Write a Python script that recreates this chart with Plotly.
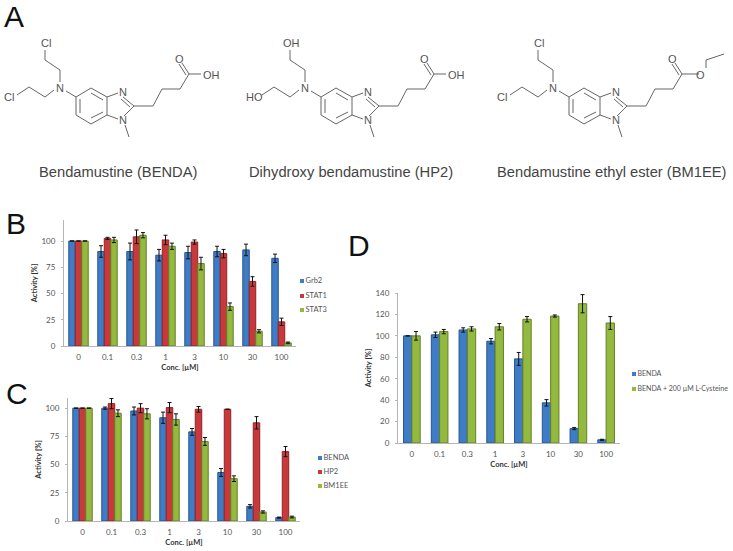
import plotly.graph_objects as go

conc = ["0", "0.1", "0.3", "1", "3", "10", "30", "100"]

b_grb2 = [100, 90, 90, 86.5, 89, 90, 91.5, 83.5]
b_grb2_err = [0, 5.5, 8, 5.5, 6, 5, 5.5, 4]
b_stat1 = [100, 102.5, 104, 101, 99, 88, 61.5, 23]
b_stat1_err = [0, 1, 6.5, 4.5, 2, 4, 4.5, 3.5]
b_stat3 = [100, 101, 105.5, 95, 78.5, 37.5, 14, 3]
b_stat3_err = [0, 2.5, 2.5, 3, 6, 3.5, 1.5, 0.8]

c_benda = [100, 100, 97.5, 91.5, 79, 43, 13, 3]
c_benda_err = [0, 1, 3.5, 5, 3, 3.5, 1.5, 0.5]
c_hp2 = [100, 104, 100, 100.5, 99, 99, 87, 61.5]
c_hp2_err = [0, 4.5, 4, 4.5, 2.5, 0, 5.5, 4.5]
c_bm1ee = [100, 95.5, 95, 90, 70.5, 37.5, 8, 3.5]
c_bm1ee_err = [0, 3, 4.5, 5, 3.5, 2.5, 1, 0.8]

d_benda = [100, 101, 105.5, 95, 78.5, 37.5, 13.5, 3]
d_benda_err = [0, 2.5, 2, 2.5, 6, 3, 1, 0.5]
d_cys = [100, 104, 106.5, 108.5, 115.5, 118.5, 130, 112]
d_cys_err = [4, 2, 2, 3, 2.5, 1, 8.5, 6]

W, H = 733, 551
BLUE, RED, GREEN = "#3f7cc6", "#c9383a", "#93b93f"
BLUE_D, RED_D, GREEN_D = "#27568f", "#8e2426", "#64802a"
TXT = "#555555"
FONT = "Lato, 'Open Sans', sans-serif"
SANS = "'Liberation Sans', Arial, sans-serif"

fig = go.Figure()


def add_bar(name, vals, errs, col, edge, ax):
    fig.add_trace(go.Bar(x=conc, y=vals, name=name, xaxis="x" + ax, yaxis="y" + ax,
                         marker=dict(color=col, line=dict(color=edge, width=1)),
                         error_y=dict(type="data", array=errs, visible=True, color="#111111",
                                      thickness=1, width=2),
                         showlegend=False))


add_bar("Grb2", b_grb2, b_grb2_err, BLUE, BLUE_D, "")
add_bar("STAT1", b_stat1, b_stat1_err, RED, RED_D, "")
add_bar("STAT3", b_stat3, b_stat3_err, GREEN, GREEN_D, "")
add_bar("BENDA", c_benda, c_benda_err, BLUE, BLUE_D, "2")
add_bar("HP2", c_hp2, c_hp2_err, RED, RED_D, "2")
add_bar("BM1EE", c_bm1ee, c_bm1ee_err, GREEN, GREEN_D, "2")
add_bar("BENDA", d_benda, d_benda_err, BLUE, BLUE_D, "3")
add_bar("BENDA + 200 µM L-Cysteine", d_cys, d_cys_err, GREEN, GREEN_D, "3")

# the bars are grouped per axis, gap differs for panel D so use offsets there
for tr in fig.data[6:]:
    tr.width = 0.3
fig.data[6].offset = -0.3
fig.data[7].offset = 0.0


def key(names, cols, x, ys, size=7.5):
    fig.add_trace(go.Scatter(x=[x] * len(names), y=ys, text=names, mode="markers+text",
                             textposition="middle right",
                             textfont=dict(family=FONT, size=size, color=TXT),
                             marker=dict(symbol="square", size=4, color=cols),
                             xaxis="x4", yaxis="y4", showlegend=False, hoverinfo="skip"))


key(["Grb2", "STAT1", "STAT3"], [BLUE, RED, GREEN], 302, [281, 296, 310])
key(["BENDA", "HP2", "BM1EE"], [BLUE, RED, GREEN], 320, [458, 472, 486])
key(["BENDA", "BENDA + 200 µM L-Cysteine"], [BLUE, GREEN], 634, [374, 389], 7)

# skeleton of the molecule, in pixels of the left drawing
ring = [(76, 97), (91, 88), (107, 97), (107, 115), (91, 124), (76, 115), (76, 97)]
inner = [[(80, 99), (80, 113)], [(91, 118), (103, 112)], [(91, 93), (103, 100)]]
imidazole = [[(107, 97), (118, 93)], [(123, 97), (134, 106)], [(134, 106), (124, 116)],
             [(118, 119), (107, 115)], [(121, 99), (130, 107)]]
methyl = [(125, 125), (129, 137)]
chain = [(134, 106), (153, 106), (162, 89), (180, 89), (189, 74)]
carbonyl = [[(189, 74), (182, 63)], [(186, 75), (179, 64)]]
arm_a = [(60, 82), (60, 70), (45, 60), (45, 50)]
arm_b = [(54, 90), (45, 97), (29, 87), (17, 95)]
n_link = [(66, 91), (76, 97)]
acid = [(189, 74), (201, 74)]
ester = [(189, 74), (206, 74)]
ethyl = [(213, 68), (213, 60), (231, 54)]


def bonds(dx, end):
    paths = [ring, methyl, chain, arm_a, arm_b, n_link] + inner + imidazole + carbonyl + end
    xs, ys = [], []
    for p in paths:
        xs += [q[0] + dx for q in p] + [None]
        ys += [q[1] for q in p] + [None]
    fig.add_trace(go.Scatter(x=xs, y=ys, mode="lines", line=dict(color="#666666", width=1),
                             xaxis="x4", yaxis="y4", showlegend=False, hoverinfo="skip"))


bonds(0, [acid])
bonds(245, [acid])
bonds(493, [ester, ethyl])


def label(text, x, y, size=11, color=TXT, family=SANS, xanchor="center"):
    fig.add_annotation(text=text, x=x, y=y, xref="x4", yref="y4", showarrow=False,
                       xanchor=xanchor, yanchor="middle",
                       font=dict(family=family, size=size, color=color))


for dx, top, low in [(0, "Cl", "Cl"), (245, "OH", "HO"), (493, "Cl", "Cl")]:
    label(top, 46 + dx, 43)
    label(low, 9 + dx, 97)
    label("N", 60 + dx, 88)
    label("N", 123 + dx, 92)
    label("N", 123 + dx, 120)
    label("O", 179 + dx, 59)
label("OH", 211, 75)
label("OH", 456, 75)
label("O", 700, 75)

label("Bendamustine (BENDA)", 118, 172, 14.7, "#444444")
label("Dihydroxy bendamustine (HP2)", 351, 172, 14.7, "#444444")
label("Bendamustine ethyl ester (BM1EE)", 611, 172, 14.7, "#444444")

label("A", 14, 16, 30, "#111111")
label("B", 16, 223, 30, "#111111")
label("C", 17, 393, 30, "#111111")
label("D", 359, 245, 30, "#111111")


def x_axis(x0, x1, anchor):
    return dict(domain=[x0 / W, x1 / W], anchor=anchor, type="category", showgrid=False,
                showline=True, linecolor="#b5b5b5", linewidth=1, ticks="", automargin=False,
                ticklabelstandoff=3,
                tickfont=dict(family=FONT, size=8, color=TXT),
                title=dict(text="Conc. [µM]", standoff=4,
                           font=dict(family=FONT, size=7.5, color="#333333", weight="bold")))


def y_axis(y_top, y0, top, step, anchor):
    return dict(domain=[1 - y0 / H, 1 - y_top / H], anchor=anchor, range=[0, top], dtick=step,
                showgrid=False, zeroline=False, showline=True, linecolor="#b5b5b5", linewidth=1,
                ticks="outside", ticklen=2, tickcolor="#b5b5b5", automargin=False,
                ticklabelstandoff=4,
                tickfont=dict(family=FONT, size=8, color=TXT),
                title=dict(text="Activity [%]", standoff=2,
                           font=dict(family=FONT, size=7.5, color="#333333", weight="bold")))


fig.update_layout(
    width=W, height=H, margin=dict(l=0, r=0, t=0, b=0),
    paper_bgcolor="white", plot_bgcolor="rgba(0,0,0,0)",
    barmode="group", bargap=0.33, bargroupgap=0,
    showlegend=False,
    xaxis=x_axis(64, 296, "y"),
    yaxis=y_axis(220, 346, 120, 25, "x"),
    xaxis2=x_axis(68, 300, "y2"),
    yaxis2=y_axis(398, 521, 109, 25, "x2"),
    xaxis3=x_axis(398, 620, "y3"),
    yaxis3=y_axis(293, 443, 140, 20, "x3"),
    xaxis4=dict(domain=[0, 1], range=[0, W], visible=False, anchor="y4", fixedrange=True),
    yaxis4=dict(domain=[0, 1], range=[H, 0], visible=False, anchor="x4", fixedrange=True),
)

fig.write_html("out.html", config=dict(displayModeBar=False),
               post_script="document.body.style.margin='0';")
